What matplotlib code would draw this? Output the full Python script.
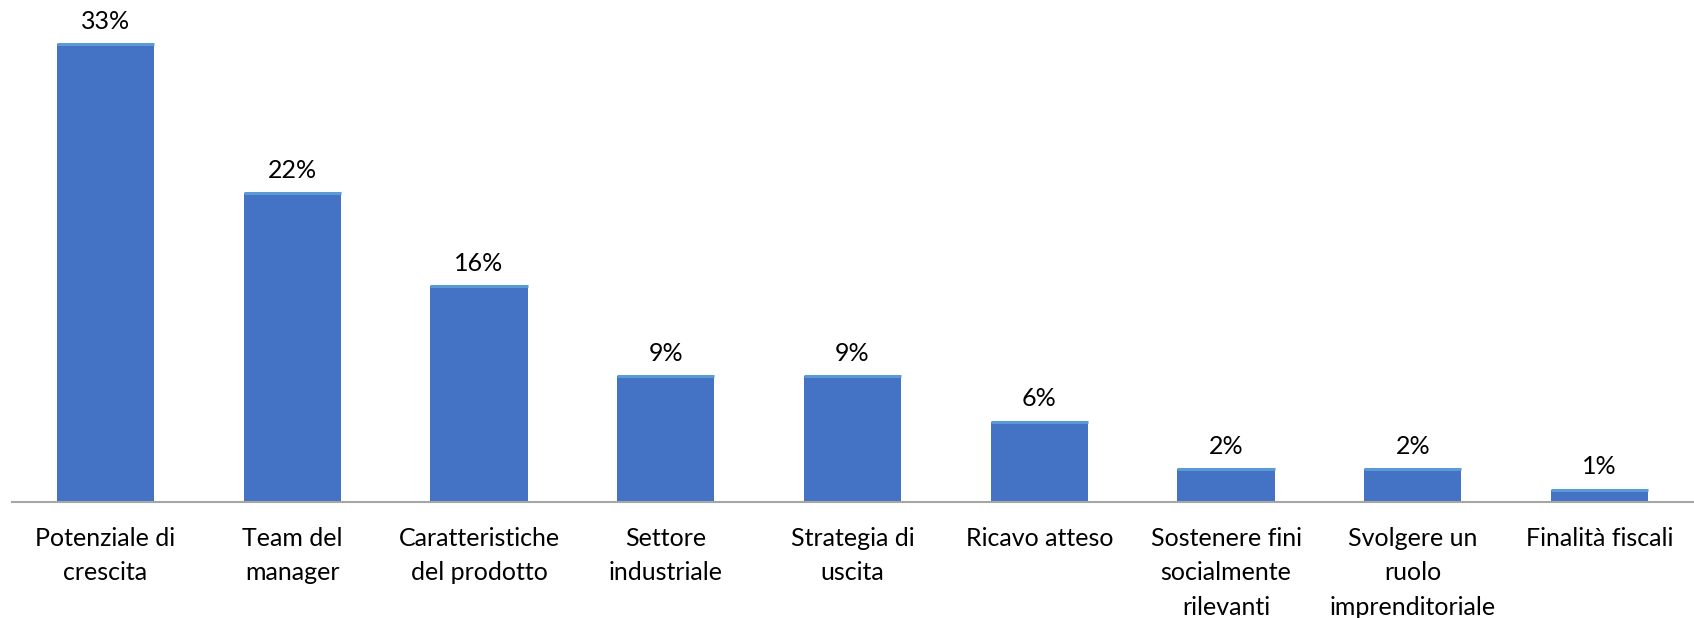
import matplotlib
matplotlib.use("Agg")
import matplotlib.pyplot as plt
import numpy as np

plt.rcParams["font.family"] = ["Lato", "DejaVu Sans"]

categories = [
    "Potenziale di\ncrescita",
    "Team del\nmanager",
    "Caratteristiche\ndel prodotto",
    "Settore\nindustriale",
    "Strategia di\nuscita",
    "Ricavo atteso",
    "Sostenere fini\nsocialmente\nrilevanti",
    "Svolgere un\nruolo\nimprenditoriale",
    "Finalità fiscali",
]
shares = [33.0, 22.3, 15.6, 9.1, 9.1, 5.8, 2.4, 2.4, 0.9]

BAR = "#4472C4"
EDGE_TOP = "#5B9BD5"
AXIS = "#A6A6A6"

fig = plt.figure(figsize=(16.94, 6.18), dpi=100)
ax = fig.add_axes([12 / 1694, 1 - 502 / 618, 1681 / 1694, 502 / 618])

x = np.arange(len(categories))
width = 0.52
ax.bar(x, shares, width=width, color=BAR, zorder=2)
# thin lighter strip along each bar top
ax.hlines(shares, x - width / 2, x + width / 2, color=EDGE_TOP, lw=2.2, zorder=3)

for xi, v in zip(x, shares):
    ax.annotate(f"{v:.0f}%", (xi, v), xytext=(0, 8), textcoords="offset points",
                ha="center", va="bottom", fontsize=18, color="#000000")

ax.set_xlim(-0.5, len(categories) - 0.5)
ax.set_ylim(0, 36.2)
ax.set_yticks([])
ax.set_xticks(x)
ax.set_xticklabels(categories, fontsize=18, linespacing=1.6, va="top")
ax.tick_params(axis="x", length=0, pad=18)
for side in ("left", "right", "top"):
    ax.spines[side].set_visible(False)
ax.spines["bottom"].set_color(AXIS)
ax.spines["bottom"].set_linewidth(1.5)
ax.patch.set_alpha(0)

fig.savefig("out.png", dpi=100)
